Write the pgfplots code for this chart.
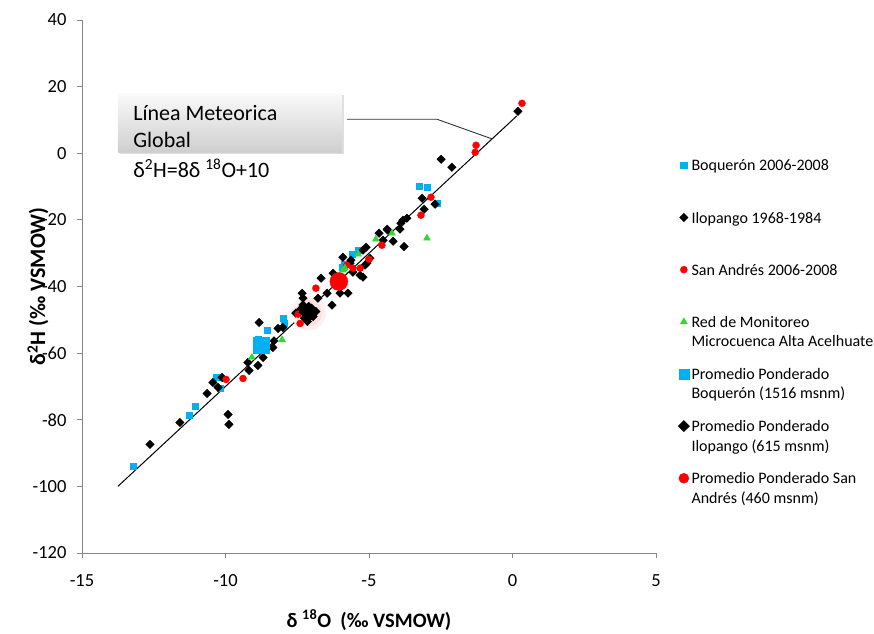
\documentclass[border=0pt]{standalone}
\usepackage{fontspec}
\setmainfont{Carlito}
\usepackage{pgfplots}
\pgfplotsset{compat=1.18}
\usetikzlibrary{shadows}
\definecolor{boq}{RGB}{0,176,240}
\definecolor{san}{RGB}{255,0,0}
\definecolor{grn}{RGB}{51,214,51}
\definecolor{axgray}{RGB}{134,134,134}
\newcommand\LE[2]{\parbox[t]{200pt}{#1\strut\\#2\strut}}
\begin{document}
\begin{tikzpicture}
\useasboundingbox (-82pt,-80pt) rectangle (792pt,553pt);
\begin{axis}[
  scale only axis, width=574pt, height=533pt, at={(0,0)}, anchor=south west,
  xmin=-15, xmax=5, ymin=-120, ymax=40,
  xtick={-15,-10,-5,0,5}, ytick={-120,-100,-80,-60,-40,-20,0,20,40},
  axis x line*=bottom, axis y line*=left,
  axis line style={-, axgray, line width=0.8pt},
  tick align=outside, major tick length=5pt, tick style={axgray, line width=0.8pt},
  ticklabel style={font=\fontsize{18.5}{22}\selectfont},
  /pgf/number format/assume math mode=true,
  xticklabel style={yshift=-13pt},
  yticklabel style={xshift=-7pt},
  xlabel={δ \textsuperscript{18}O\ \ (‰ VSMOW)},
  ylabel={δ\textsuperscript{2}H (‰ VSMOW)},
  xlabel style={font=\fontsize{20.5}{24}\selectfont\bfseries, at={(axis description cs:0.5,-0.1257)}, anchor=center},
  ylabel style={font=\fontsize{22}{26}\selectfont\bfseries, at={(axis description cs:-0.0767,0.5)}, anchor=center},
  clip=false,
  legend image code/.code={\draw[mark repeat=2,mark phase=2,#1] plot coordinates {(-4pt,5.5pt)(0pt,5.5pt)(4pt,5.5pt)};},
  legend style={at={(1.0383,0.7467)}, anchor=north west, draw=none, fill=none,
    inner sep=0pt, row sep=33pt, column sep=0pt,
    font=\fontsize{16}{19.5}\selectfont,
    cells={anchor=base west, inner sep=0pt}},
]
% soft red glow
\addplot[only marks, mark=*, mark size=17pt, color=red!6, forget plot] coordinates {(-7.1,-48)};
\addplot[only marks, mark=*, mark size=13pt, color=red!12, forget plot] coordinates {(-7.1,-48)};
\addplot[only marks, mark=*, mark size=9pt, color=red!20, forget plot] coordinates {(-7.1,-48)};

% Boqueron 2006-2008
\addplot[only marks, mark=square*, mark size=3.2pt, color=boq] coordinates {
(-13.22,-94.0) (-11.27,-78.7) (-11.06,-76.0) (-10.30,-67.3) (-10.19,-70.6)
(-8.87,-56.0) (-8.80,-58.5) (-8.55,-53.2) (-8.00,-49.5) (-7.95,-51.0)
(-5.91,-34.2) (-5.84,-33.3) (-5.59,-30.3) (-5.38,-29.1)
(-3.26,-9.9) (-2.98,-10.2) (-2.63,-15.0)};
\addlegendentry{\LE{Boquerón 2006-2008}{}}

% Ilopango 1968-1984
\addplot[only marks, mark=square*, mark size=3pt, mark options={rotate=45}, color=black] coordinates {
(-12.63,-87.4) (-11.59,-80.8) (-10.64,-72.1) (-10.44,-68.8) (-10.26,-70.3) (-10.12,-67.3)
(-9.91,-78.4) (-9.88,-81.4) (-9.22,-62.8) (-9.18,-65.2) (-8.87,-63.7) (-8.69,-61.3)
(-8.35,-58.3) (-8.83,-50.8) (-8.17,-52.6) (-8.31,-56.3) (-8.00,-52.3)
(-7.33,-42.0) (-7.30,-43.5) (-6.78,-43.5) (-6.67,-37.5) (-6.46,-42.0) (-6.29,-45.6)
(-6.25,-36.0) (-6.01,-42.0) (-5.73,-42.0) (-5.91,-31.2) (-5.63,-32.1) (-5.66,-33.0)
(-5.56,-35.7) (-5.21,-37.2) (-5.31,-36.6) (-5.14,-33.6) (-5.07,-33.0) (-5.10,-28.2)
(-5.21,-29.1) (-4.97,-31.5) (-4.65,-24.0) (-4.51,-26.1) (-4.37,-22.8) (-4.34,-23.1)
(-4.16,-26.4) (-3.92,-22.8) (-3.89,-21.0) (-3.82,-20.1) (-3.78,-28.0) (-3.68,-19.5)
(-3.15,-13.5) (-3.08,-16.8) (-2.70,-15.3) (-2.49,-1.8) (-2.11,-4.2) (0.19,12.6)
(-7.40,-47.0) (-7.25,-49.5) (-7.00,-46.5) (-6.95,-49.0) (-7.15,-50.5) (-6.85,-47.5)
(-7.30,-45.5) (-7.55,-48.0)};
\addlegendentry{\LE{Ilopango 1968-1984}{}}

% San Andres 2006-2008
\addplot[only marks, mark=*, mark size=3.5pt, color=san] coordinates {
(0.33,15.0) (-1.27,2.4) (-1.30,0.3) (-2.84,-13.2) (-3.19,-18.6) (-4.55,-27.6)
(-5.00,-31.8) (-5.56,-34.5) (-5.31,-34.5) (-5.77,-33.6) (-5.91,-38.1) (-6.85,-40.5)
(-7.47,-48.3) (-7.40,-51.1) (-9.98,-67.9) (-9.39,-67.6)};
\addlegendentry{\LE{San Andrés 2006-2008}{}}

% Red de Monitoreo
\addplot[only marks, mark=triangle*, mark size=4pt, color=grn] coordinates {
(-2.98,-25.5) (-4.76,-25.8) (-4.20,-24.0) (-5.38,-30.3) (-5.84,-34.5) (-5.91,-35.1)
(-8.03,-56.0) (-9.08,-61.3)};
\addlegendentry{\LE{Red de Monitoreo}{Microcuenca Alta Acelhuate}}

% Promedios
\addplot[only marks, mark=square*, mark size=8pt, color=boq, legend image post style={mark size=5pt}] coordinates {(-8.75,-57.5)};
\addlegendentry{\LE{Promedio Ponderado}{Boquerón (1516 msnm)}}
\addplot[only marks, mark=square*, mark size=7pt, mark options={rotate=45}, color=black, legend image post style={mark size=4pt}] coordinates {(-7.10,-47.7)};
\addlegendentry{\LE{Promedio Ponderado}{Ilopango (615 msnm)}}
\addplot[only marks, mark=*, mark size=9pt, color=san, legend image post style={mark size=5pt}] coordinates {(-6.05,-38.5)};
\addlegendentry{\LE{Promedio Ponderado San}{Andrés (460 msnm)}}

% Global meteoric water line
\addplot[black, line width=1pt, forget plot] coordinates {(-13.75,-100) (0.15,11.2)};

% callout
\fill[top color=gray!4, bottom color=gray!38, drop shadow={shadow xshift=2pt, shadow yshift=-2pt, opacity=0.25}]
  (axis cs:-13.75,18.0) rectangle (axis cs:-5.94,0.3);
\node[anchor=west, inner sep=0pt, font=\fontsize{22}{27}\selectfont] at (axis cs:-13.22,12.0) {Línea Meteorica};
\node[anchor=west, inner sep=0pt, font=\fontsize{22}{27}\selectfont] at (axis cs:-13.22,3.9) {Global};
\node[anchor=west, inner sep=0pt, font=\fontsize{22}{27}\selectfont] at (axis cs:-13.22,-4.5) {δ\textsuperscript{2}H=8δ \textsuperscript{18}O+10};
\draw[black!80, line width=0.9pt] (axis cs:-5.77,10.2) -- (axis cs:-2.63,10.2) -- (axis cs:-0.71,4.3);
\end{axis}
\end{tikzpicture}
\end{document}
